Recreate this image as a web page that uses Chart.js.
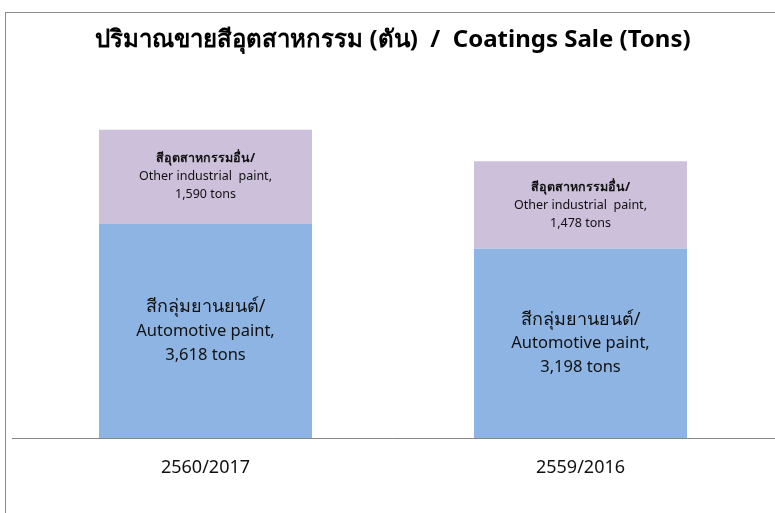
<!DOCTYPE html>
<html lang="th">
<head>
  <meta charset="UTF-8" />
  <title>Coatings Sale (Tons)</title>
  <script src="https://cdn.jsdelivr.net/npm/chart.js"></script>
  <style>
    html, body { margin: 0; padding: 0; background: #fff; }
    #wrap { position: relative; width: 775px; height: 513px; overflow: hidden; }
    #frame { position: absolute; left: 5px; top: 12px; width: 800px; height: 540px; border: 1px solid #8c8c8c; box-sizing: border-box; }
    canvas { position: absolute; left: 0; top: 0; }
  </style>
</head>
<body>
  <div id="wrap">
    <div id="frame"></div>
    <canvas id="chart" width="775" height="513"></canvas>
  </div>

  <script>
    // ข้อมูลจากกราฟ
    const categories = ['2560/2017', '2559/2016'];
    const automotive = [3618, 3198];
    const otherIndustrial = [1590, 1478];
    const automotiveLabel = ['สีกลุ่มยานยนต์/', 'Automotive paint,'];
    const otherLabel = ['สีอุตสาหกรรมอื่น/', 'Other industrial  paint,'];
    const yTicks = [0, 6000];

    const fontFamily = "'Noto Sans', 'DejaVu Sans', sans-serif";

    // เขียนป้ายข้อความในแต่ละแท่ง
    const segmentLabels = {
      id: 'segmentLabels',
      afterDatasetsDraw(chart) {
        const ctx = chart.ctx;
        chart.data.datasets.forEach((ds, i) => {
          const meta = chart.getDatasetMeta(i);
          meta.data.forEach((bar, j) => {
            const lines = ds.textLines.concat([ds.data[j].toLocaleString('en-US') + ' tons']);
            const mid = (bar.y + bar.base) / 2;
            const lh = ds.lineHeight;
            ctx.save();
            ctx.fillStyle = '#111';
            ctx.textAlign = 'center';
            ctx.textBaseline = 'middle';
            lines.forEach((t, k) => {
              const size = k === 0 ? ds.firstSize : ds.textSize;
              ctx.font = (k === 0 && ds.boldFirst ? 'bold ' : '') + size + 'px ' + fontFamily;
              ctx.fillText(t, bar.x, mid + (k - (lines.length - 1) / 2) * lh);
            });
            ctx.restore();
          });
        });
      },
      afterDraw(chart) {
        // เส้นฐานแกน X
        const ctx = chart.ctx;
        const y0 = Math.round(chart.scales.y.getPixelForValue(0)) + 0.5;
        ctx.save();
        ctx.strokeStyle = '#868686';
        ctx.lineWidth = 1;
        ctx.beginPath();
        ctx.moveTo(12, y0);
        ctx.lineTo(chart.width, y0);
        ctx.stroke();
        ctx.restore();
      }
    };

    new Chart(document.getElementById('chart'), {
      type: 'bar',
      data: {
        labels: categories,
        datasets: [
          {
            label: 'Automotive paint',
            data: automotive,
            backgroundColor: '#8db4e2',
            textLines: automotiveLabel,
            textSize: 16.5,
            firstSize: 18,
            lineHeight: 24,
            boldFirst: false
          },
          {
            label: 'Other industrial paint',
            data: otherIndustrial,
            backgroundColor: '#ccc0da',
            textLines: otherLabel,
            textSize: 12.5,
            firstSize: 12.5,
            lineHeight: 18,
            boldFirst: true
          }
        ]
      },
      options: {
        responsive: false,
        animation: false,
        layout: { padding: { left: 18, right: 7, top: 0, bottom: 15 } },
        datasets: {
          bar: { categoryPercentage: 1, barPercentage: 0.568 }
        },
        scales: {
          x: {
            stacked: true,
            grid: { display: false, drawTicks: false },
            border: { display: false },
            ticks: { color: '#111', padding: 19, font: { family: fontFamily, size: 18 } }
          },
          y: {
            stacked: true,
            display: false,
            min: yTicks[0],
            max: yTicks[1]
          }
        },
        plugins: {
          legend: { display: false },
          tooltip: { enabled: false },
          title: {
            display: true,
            text: 'ปริมาณขายสีอุตสาหกรรม (ตัน)  /  Coatings Sale (Tons)',
            color: '#000',
            font: { family: fontFamily, size: 24, weight: 'bold' },
            padding: { top: 26, bottom: 28 }
          }
        }
      },
      plugins: [segmentLabels]
    });
  </script>
</body>
</html>
